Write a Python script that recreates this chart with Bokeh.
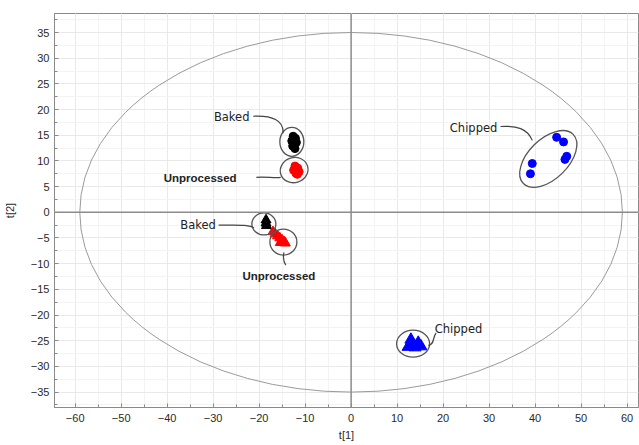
import math
from bokeh.plotting import figure
from bokeh.models import Span, Label, SingleIntervalTicker, ColumnDataSource
from bokeh.embed import file_html
from bokeh.resources import INLINE

# Score values (t[1], t[2]) per sample group
baked_c_x = [-12.6, -12.1, -12.9, -12.3, -12.7, -12.2, -11.9]
baked_c_y = [14.8, 14.4, 13.9, 13.4, 12.9, 12.4, 13.6]

unproc_c_x = [-12.2, -11.6, -12.5, -11.3, -12.0, -11.7]
unproc_c_y = [9.0, 8.6, 8.2, 7.9, 7.6, 7.4]

chipped_c_x = [44.7, 46.2, 46.9, 46.5, 39.4, 39.0]
chipped_c_y = [14.6, 13.7, 10.9, 10.3, 9.5, 7.5]

baked_t_x = [-18.5, -18.5, -18.4]
baked_t_y = [-1.5, -2.1, -2.6]

unproc_t_x = [-17.0, -16.5, -16.0, -15.5, -15.0, -14.5, -15.4, -14.3]
unproc_t_y = [-3.8, -4.2, -4.6, -5.0, -5.4, -5.8, -5.9, -6.0]

chipped_t_x = [13.0, 14.6, 13.6, 12.4, 15.2, 13.9]
chipped_t_y = [-24.8, -25.4, -25.9, -26.2, -26.1, -26.3]

# Hotelling T2 ellipse semi-axes
t2_a = 59.0
t2_b = 35.0

x_range = (-64.5, 62.5)
y_range = (-38.0, 38.7)

p = figure(width=639, height=445, output_backend="svg", toolbar_location=None,
           x_range=x_range, y_range=y_range,
           min_border_left=52, min_border_right=1, min_border_top=13,
           min_border_bottom=38)

p.outline_line_color = "#8a8a8a"
p.background_fill_color = "white"
p.border_fill_color = "white"

for ax in (p.xaxis[0], p.yaxis[0]):
    ax.axis_line_color = "#8a8a8a"
    ax.major_tick_line_color = "#8a8a8a"
    ax.minor_tick_line_color = "#8a8a8a"
    ax.major_tick_in = 4
    ax.major_tick_out = 0
    ax.minor_tick_in = 3
    ax.minor_tick_out = 0
    ax.major_label_text_font = "Liberation Sans"
    ax.major_label_text_font_size = "11px"
    ax.major_label_text_color = "#2a2a2a"
    ax.axis_label_text_font = "Liberation Sans"
    ax.axis_label_text_font_size = "11px"
    ax.axis_label_text_font_style = "normal"
    ax.axis_label_text_color = "#2a2a2a"

p.xaxis.ticker = SingleIntervalTicker(interval=10, num_minor_ticks=2)
p.yaxis.ticker = SingleIntervalTicker(interval=5, num_minor_ticks=2)
p.xaxis.axis_label = "t[1]"
p.yaxis.axis_label = "t[2]"
p.xaxis.major_label_standoff = 6
p.yaxis.major_label_standoff = 5
p.xaxis.axis_label_standoff = 4
p.yaxis.axis_label_standoff = 12

for g in (p.xgrid[0], p.ygrid[0]):
    g.grid_line_color = "#e9e9e9"
    g.minor_grid_line_color = "#f3f3f3"

# zero lines
p.add_layout(Span(location=0, dimension="width", line_color="#8c8c8c", line_width=1.5))
p.add_layout(Span(location=0, dimension="height", line_color="#8c8c8c", line_width=1.5))

# Hotelling T2 ellipse
p.ellipse(x=0, y=0, width=2 * t2_a, height=2 * t2_b, fill_color=None,
          line_color="#9a9a9a", line_width=1)

# scatter groups
p.scatter(baked_c_x, baked_c_y, marker="circle", size=8, color="black")
p.scatter(unproc_c_x, unproc_c_y, marker="circle", size=8, color="#ff0000")
p.scatter(chipped_c_x, chipped_c_y, marker="circle", size=8, color="#0000ff")
p.scatter(baked_t_x, baked_t_y, marker="triangle", size=10, color="black")
p.scatter(unproc_t_x, unproc_t_y, marker="triangle", size=10, color="#ff0000")
p.scatter(chipped_t_x, chipped_t_y, marker="triangle", size=12, color="#0000ff")


def mean(v):
    return sum(v) / len(v)


# group outlines, centred on each group (sizes in screen pixels)
groups = [
    (baked_c_x, baked_c_y, 24, 29, 0.0, (-0.5, 0.1)),
    (unproc_c_x, unproc_c_y, 28, 25, 0.3, (-0.5, 0.1)),
    (chipped_c_x, chipped_c_y, 70, 40, 0.78, (-0.9, -0.7)),
    (baked_t_x, baked_t_y, 24, 22, 0.0, (-0.5, -0.2)),
    (unproc_t_x, unproc_t_y, 27, 26, 0.0, (0.8, -0.7)),
    (chipped_t_x, chipped_t_y, 33, 27, 0.0, (-0.3, 0.2)),
]
for gx, gy, w, h, ang, (dx, dy) in groups:
    p.ellipse(x=mean(gx) + dx, y=mean(gy) + dy, width=w, height=h, angle=ang,
              width_units="screen", height_units="screen",
              fill_color=None, line_color="#555555", line_width=1.3)

# callout labels
labels = [
    ("Baked", -22.1, 18.6, "right", "normal", "DejaVu Sans"),
    ("Unprocessed", -24.9, 6.6, "right", "bold", "Liberation Sans"),
    ("Chipped", 31.8, 16.5, "right", "normal", "DejaVu Sans"),
    ("Baked", -29.4, -2.5, "right", "normal", "DejaVu Sans"),
    ("Unprocessed", -15.7, -12.4, "center", "bold", "Liberation Sans"),
    ("Chipped", 18.2, -22.7, "left", "normal", "DejaVu Sans"),
]
for txt, lx, ly, align, style, font in labels:
    p.add_layout(Label(x=lx, y=ly, text=txt, text_align=align, text_baseline="middle",
                       text_font=font, text_font_style=style, text_font_size="11.5px",
                       text_color="#222222"))

# leader lines: start, end, control 0, control 1
leaders = [
    ((-21.3, 18.7), (-14.8, 15.4), (-17.2, 18.9), (-14.6, 17.9)),
    ((-20.6, 6.8), (-15.3, 6.8), (-18.7, 7.0), (-16.6, 6.6)),
    ((32.5, 16.7), (39.4, 14.0), (36.1, 16.9), (38.3, 16.3)),
    ((-28.8, -2.5), (-21.1, -3.1), (-25.2, -2.5), (-21.9, -2.3)),
    ((-14.6, -7.8), (-14.2, -10.3), (-14.9, -9.1), (-14.5, -9.9)),
    ((16.8, -25.9), (18.5, -23.5), (18.1, -25.9), (17.8, -24.1)),
]
src = ColumnDataSource(dict(
    x0=[l[0][0] for l in leaders], y0=[l[0][1] for l in leaders],
    x1=[l[1][0] for l in leaders], y1=[l[1][1] for l in leaders],
    cx0=[l[2][0] for l in leaders], cy0=[l[2][1] for l in leaders],
    cx1=[l[3][0] for l in leaders], cy1=[l[3][1] for l in leaders],
))
p.bezier(x0="x0", y0="y0", x1="x1", y1="y1", cx0="cx0", cy0="cy0",
         cx1="cx1", cy1="cy1", source=src, line_color="#444444", line_width=1.2)

open("out.html", "w").write(file_html(p, INLINE))
